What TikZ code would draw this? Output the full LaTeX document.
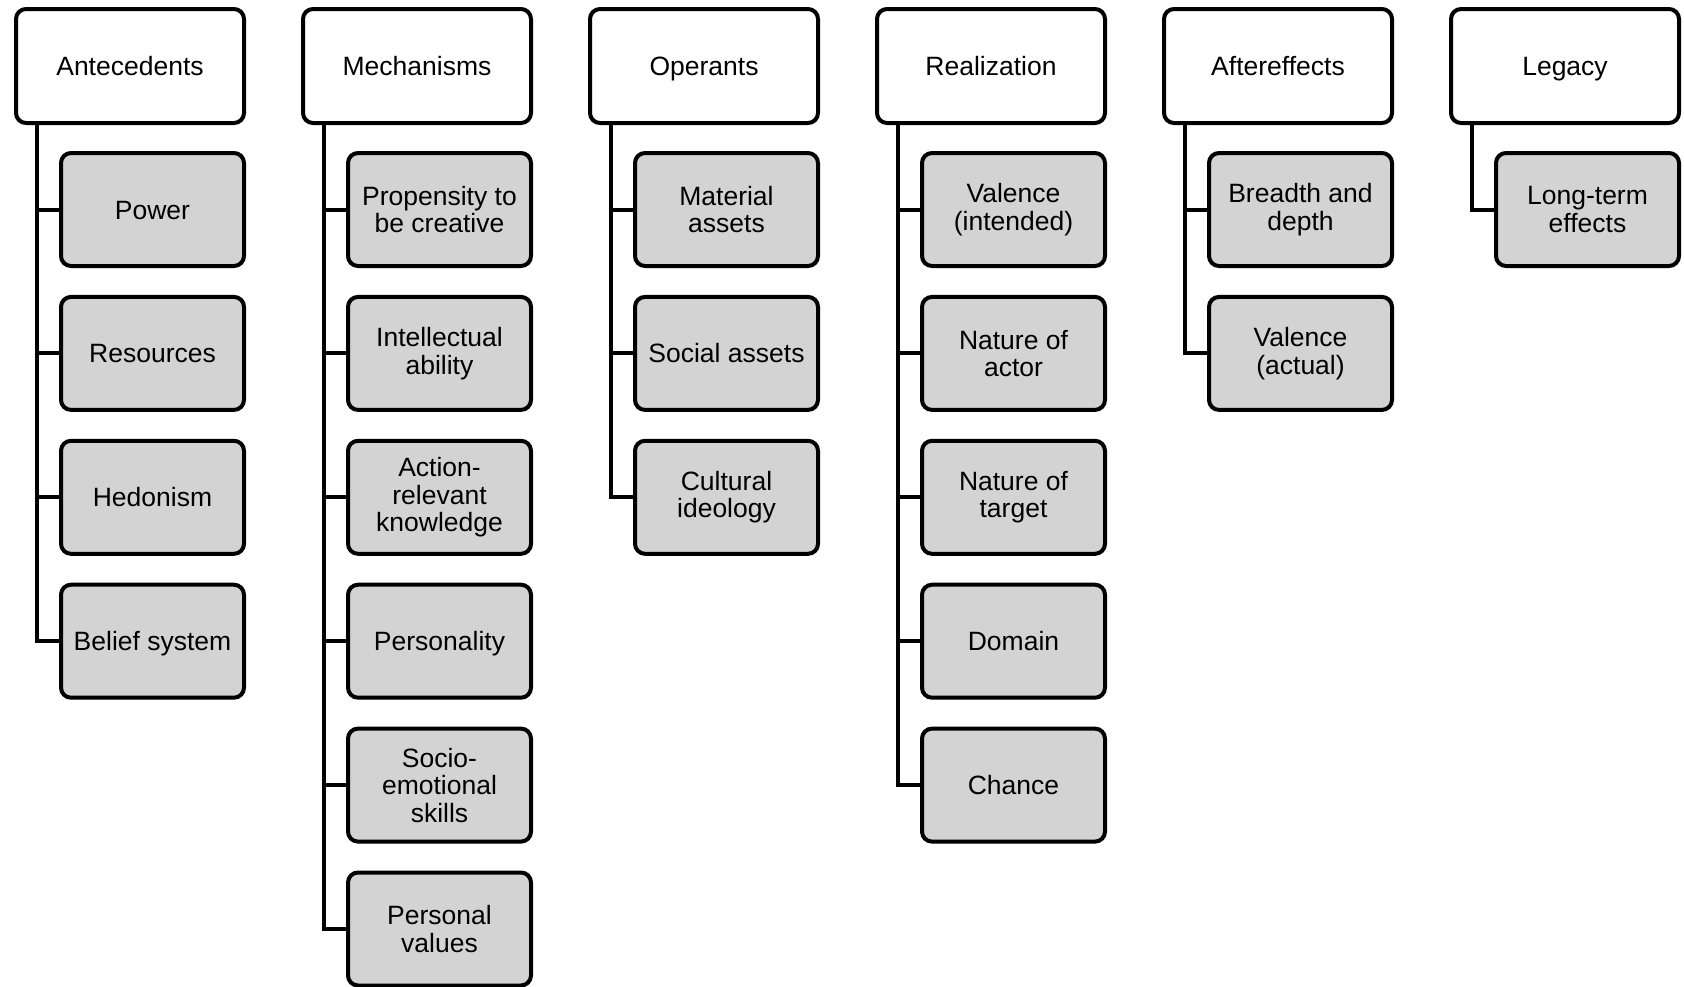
\documentclass[tikz,border=0pt]{standalone}
\usepackage{fontspec}
\setmainfont{Liberation Sans}
\definecolor{boxgray}{RGB}{211,211,211}
\begin{document}
\begin{tikzpicture}[x=1pt,y=-1pt,
  box/.style={draw=black, line width=4pt, rounded corners=10pt, minimum width=228pt, minimum height=114pt, inner sep=0pt, align=center, font=\fontsize{26.5}{27.5}\selectfont, fill=white},
  item/.style={box, fill=boxgray, minimum width=183pt, minimum height=113pt},
  one/.style={text height=19pt, text depth=0pt},
  link/.style={draw=black, line width=4pt, line join=miter}]
\useasboundingbox (0,0) rectangle (1684,986);
% headers
\node[box,one] (h0) at (130,66) {Antecedents};
\node[box,one] (h1) at (417,66) {Mechanisms};
\node[box,one] (h2) at (704,66) {Operants};
\node[box,one] (h3) at (991,66) {Realization};
\node[box,one] (h4) at (1278,66) {Aftereffects};
\node[box,one] (h5) at (1565,66) {Legacy};
% Antecedents
\node[item,one] (a1) at (152.5,209.5) {Power};
\node[item,one] (a2) at (152.5,353.4) {Resources};
\node[item,one] (a3) at (152.5,497.3) {Hedonism};
\node[item,one] (a4) at (152.5,641.2) {Belief system};
% Mechanisms
\node[item] (m1) at (439.5,209.5) {Propensity to\\be creative};
\node[item] (m2) at (439.5,353.4) {Intellectual\\ability};
\node[item] (m3) at (439.5,497.3) {Action-\\relevant\\knowledge};
\node[item,one] (m4) at (439.5,641.2) {Personality};
\node[item] (m5) at (439.5,785.1) {Socio-\\emotional\\skills};
\node[item] (m6) at (439.5,929) {Personal\\values};
% Operants
\node[item] (o1) at (726.5,209.5) {Material\\assets};
\node[item,one] (o2) at (726.5,353.4) {Social assets};
\node[item] (o3) at (726.5,497.3) {Cultural\\ideology};
% Realization
\node[item] (r1) at (1013.5,209.5) {Valence\\(intended)};
\node[item] (r2) at (1013.5,353.4) {Nature of\\actor};
\node[item] (r3) at (1013.5,497.3) {Nature of\\target};
\node[item,one] (r4) at (1013.5,641.2) {Domain};
\node[item,one] (r5) at (1013.5,785.1) {Chance};
% Aftereffects
\node[item] (f1) at (1300.5,209.5) {Breadth and\\depth};
\node[item] (f2) at (1300.5,353.4) {Valence\\(actual)};
% Legacy
\node[item] (l1) at (1587.5,209.5) {Long-term\\effects};
% connectors
\foreach \h/\list in {h0/{a1,a2,a3,a4}, h1/{m1,m2,m3,m4,m5,m6}, h2/{o1,o2,o3}, h3/{r1,r2,r3,r4,r5}, h4/{f1,f2}, h5/{l1}}{
  \foreach \c in \list {
    \draw[link] ([xshift=-93pt]\h.south) |- (\c.west);
  }
}
\end{tikzpicture}
\end{document}
